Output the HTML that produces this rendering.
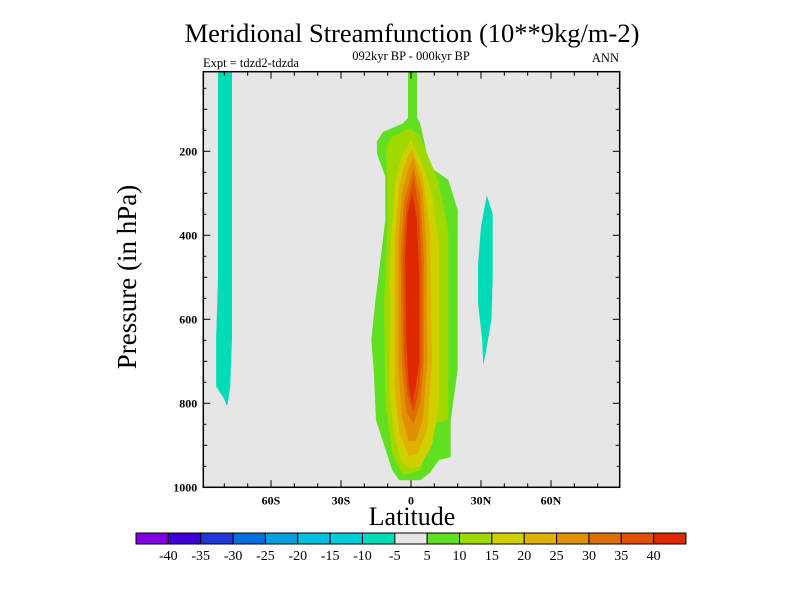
<!DOCTYPE html>
<html><head><meta charset="utf-8"><style>
body{margin:0;background:#fff;}
svg{display:block;font-family:"Liberation Serif",serif;}
</style></head><body>
<svg id="chart" width="800" height="600">
<rect width="800" height="600" fill="#fff"/>
<text x="412" y="42" font-size="26.5" text-anchor="middle">Meridional Streamfunction (10**9kg/m-2)</text>
<text x="411" y="60" font-size="12.5" text-anchor="middle">092kyr BP - 000kyr BP</text>
<text x="203" y="67" font-size="12.5">Expt = tdzd2-tdzda</text>
<text x="619" y="62" font-size="12.5" text-anchor="end">ANN</text>
<text x="412" y="525" font-size="26" text-anchor="middle">Latitude</text>
<text transform="translate(136,277) rotate(-90)" font-size="27" text-anchor="middle">Pressure (in hPa)</text>
<g id="plot"></g>
<g id="cbar"></g>
</svg>
<script>
const levels=[5,10,15,20,25,30,35,40];
const colors=['#8000e0','#4000d8','#2038d8','#0070e0','#00a0e0','#00c0e0','#00ccdc','#00dcb8','#e6e6e6','#60e020','#a0d800','#d0d000','#e0b000','#e09000','#dd7000','#e05000','#dd2800'];
const cbarLabels=['-40','-35','-30','-25','-20','-15','-10','-5','5','10','15','20','25','30','35','40'];
const xTicks=[-60,-30,0,30,60];
const xTickLabels=['60S','30S','0','30N','60N'];
const yTicks=[200,400,600,800,1000];
const c5=[[-1.3,10],[2.6,10],[2.6,120],[3.9,133],[8,237],[16,268],[20,340],[20,483],[20,720],[17,840],[17,928],[12,935],[8,966],[4,983],[-5,983],[-8,960],[-15,840],[-16,720],[-17,650],[-15.4,562],[-11,364],[-11,260],[-14.6,205],[-14.6,177],[-12,154],[-3.4,133],[-1.3,120]];
const c10=[[-0.4,145],[3.6,162],[11.6,268],[16,387],[16,840],[11,847],[4,960],[-3.4,970],[-8,920],[-11,800],[-11.5,562],[-10,364],[-10.7,190],[-8,165]];
const c15=[[0,175],[5,230],[9,300],[12,420],[12,800],[9,900],[4,950],[0,955],[-4,940],[-7,880],[-9,780],[-9,450],[-7,280],[-4,210]];
const c20=[[0.5,195],[5,260],[8,380],[9,700],[7,860],[3,920],[-1,925],[-5,870],[-7,760],[-7,420],[-5,280],[-2,220]];
const c25=[[1,215],[5,290],[6.5,420],[7,700],[5,840],[2,890],[-1,890],[-4,830],[-5.5,700],[-5.5,420],[-4,300],[-1,240]];
const c30=[[1,240],[4,310],[5.5,450],[5.5,700],[4,800],[1,850],[-2,820],[-4,700],[-4.5,450],[-3,320]];
const c35=[[1,265],[3.5,340],[4.5,480],[4.5,700],[3,780],[1,820],[-1.5,780],[-3,680],[-3.5,460],[-2,330]];
const c40=[[0.5,300],[2.5,360],[3.5,500],[3.5,700],[2,760],[0.5,800],[-1,760],[-2,650],[-2.5,450],[-1.5,350]];
const negSouth=[[-82.7,10],[-76.7,10],[-76.7,640],[-77.5,760],[-78.5,800],[-79,806],[-80,790],[-83.5,760],[-83.5,640],[-82.7,500]];
const negNorth=[[32.5,305],[35,350],[35,500],[34.5,600],[32,680],[31,710],[30.5,650],[28.7,560],[28.7,470],[30,380]];
const posContours=[c5,c10,c15,c20,c25,c30,c35,c40];

const L=203.3,R=619.7,T=71.7,B=487.3;
const X=lat=>411+lat*70/30;
const Y=p=>67.3+p*0.42;
const NS='http://www.w3.org/2000/svg';
const plot=document.getElementById('plot');
function mk(tag,attrs,parent){const e=document.createElementNS(NS,tag);for(const k in attrs)e.setAttribute(k,attrs[k]);parent.appendChild(e);return e;}
const cp=mk('clipPath',{id:'clip'},plot);mk('rect',{x:L,y:T,width:R-L,height:B-T},cp);
const bg=mk('rect',{x:L,y:T,width:R-L,height:B-T,fill:'#e6e6e6'},plot);


const g=mk('g',{'clip-path':'url(#clip)'},plot);
function poly(pts,fill,name){const e=mk('polygon',{points:pts.map(q=>X(q[0]).toFixed(1)+','+Y(q[1]).toFixed(1)).join(' '),fill:fill},g);

}
poly(negSouth,colors[7],'negative-cell-south');
poly(negNorth,colors[7],'negative-cell-north');
posContours.forEach((c,i)=>poly(c,colors[9+i],'contour-level-'+levels[i]));
mk('rect',{x:L,y:T,width:R-L,height:B-T,fill:'none',stroke:'#000','stroke-width':1.5},plot);
for(let lat=-80;lat<=80;lat+=10){const x=X(lat),maj=lat%30===0;const h=maj?7:4;
mk('line',{x1:x,y1:B,x2:x,y2:B-h,stroke:'#000'},plot);mk('line',{x1:x,y1:T,x2:x,y2:T+h,stroke:'#000'},plot);}
xTicks.forEach((t,i)=>{const e=mk('text',{x:X(t),y:B+17,'font-size':12,'font-weight':'bold','text-anchor':'middle'},plot);e.textContent=xTickLabels[i];

});
for(let p=100;p<=1000;p+=100){const y=Y(p),maj=p%200===0;const h=maj?7:4;
mk('line',{x1:L,y1:y,x2:L+h,y2:y,stroke:'#000'},plot);mk('line',{x1:R,y1:y,x2:R-h,y2:y,stroke:'#000'},plot);}
for(let p=50;p<1000;p+=100){const y=Y(p);mk('line',{x1:L,y1:y,x2:L+3,y2:y,stroke:'#000'},plot);mk('line',{x1:R,y1:y,x2:R-3,y2:y,stroke:'#000'},plot);}
yTicks.forEach(t=>{const e=mk('text',{x:L-6,y:Y(t)+4,'font-size':12,'font-weight':'bold','text-anchor':'end'},plot);e.textContent=String(t);

});
const cb=document.getElementById('cbar');const cx0=136,cx1=686,cy=533,ch=11;const w=(cx1-cx0)/colors.length;
colors.forEach((c,i)=>{const e=mk('rect',{x:cx0+i*w,y:cy,width:w,height:ch,fill:c,stroke:'#000','stroke-width':1},cb);

});
cbarLabels.forEach((l,i)=>{const e=mk('text',{x:cx0+(i+1)*w,y:cy+27,'font-size':14,'text-anchor':'middle'},cb);e.textContent=l;

});
</script>
</body></html>
